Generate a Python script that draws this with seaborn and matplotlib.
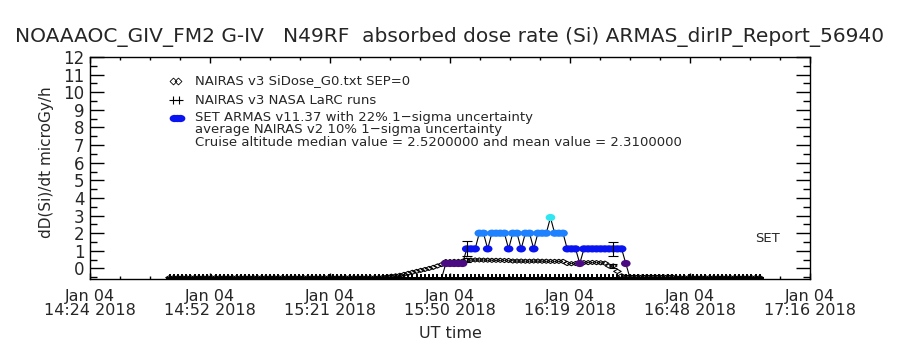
import matplotlib
matplotlib.use("Agg")
import matplotlib.pyplot as plt
from matplotlib.path import Path
from matplotlib.ticker import AutoMinorLocator, FixedLocator
import pandas as pd
import seaborn as sns

TITLE = "NOAAAOC_GIV_FM2 G-IV   N49RF  absorbed dose rate (Si) ARMAS_dirIP_Report_56940"

# x axis in UT minutes of day (14:24 -> 17:16)
X_MIN, X_MAX = 864, 1036
x_tick_labels = ["Jan 04\n14:24 2018", "Jan 04\n14:52 2018", "Jan 04\n15:21 2018",
                 "Jan 04\n15:50 2018", "Jan 04\n16:19 2018", "Jan 04\n16:48 2018",
                 "Jan 04\n17:16 2018"]
y_tick_values = [0, 1, 2, 3, 4, 5, 6, 7, 8, 9, 10, 11, 12]

# NAIRAS v3 SiDose_G0 (diamonds), one value per minute starting 14:43 UT
nairas_start = 883
nairas_vals = ([-0.52] * 51 +
               [-0.5, -0.47, -0.44, -0.42, -0.39, -0.34, -0.28, -0.22, -0.17, -0.11,
                -0.06, 0.0, 0.06, 0.14, 0.22] +
               [0.39, 0.39, 0.40, 0.40, 0.41, 0.47, 0.47, 0.48, 0.48, 0.47, 0.47, 0.46,
                0.46, 0.46, 0.45, 0.45, 0.42, 0.42, 0.42, 0.41, 0.41, 0.42, 0.42, 0.41,
                0.41, 0.40, 0.40, 0.40, 0.40] +
               [0.28, 0.27, 0.28, 0.30, 0.33, 0.33, 0.34, 0.33, 0.32, 0.30, 0.14, 0.14,
                -0.17, -0.42] +
               [-0.47, -0.47, -0.47, -0.47, -0.47, -0.47, -0.47, -0.47, -0.47, -0.47,
                -0.47, -0.47] +
               [-0.52] * 21)

# NAIRAS v3 NASA LaRC runs (+), same cadence
larc_start = 883
larc_vals = [-0.57] * 142

# SET ARMAS v11.37, one value per minute starting 15:48 UT
set_start = 948
set_vals = [-0.55,
            0.28, 0.28, 0.28, 0.28, 0.28,
            1.11, 1.11, 1.11, 2.0, 2.0, 1.11, 2.0, 2.0, 2.0, 2.0, 1.11,
            2.0, 2.0, 1.11, 2.0, 2.0, 1.11, 2.0, 2.0, 2.0, 2.89, 2.0, 2.0, 2.0,
            1.11, 1.11, 1.11, 0.28,
            1.11, 1.11, 1.11, 1.11, 1.11, 1.11, 1.11, 1.11, 1.11, 1.11,
            0.28,
            -0.55]
set_err_minutes = [954, 989]
set_err_vals = [0.42, 0.38]
nairas_err_minutes = [954, 989]
nairas_err_vals = [0.1, 0.1]

level_colors = {0.28: "#4b0a82", 1.11: "#0a14f0", 2.0: "#1e82ff", 2.89: "#30e6f0"}

# flat open diamond (IDL psym=4 look) and slightly flat dot
flat_diamond = Path([(-1, 0), (0, 0.55), (1, 0), (0, -0.55), (-1, 0)],
                    [Path.MOVETO, Path.LINETO, Path.LINETO, Path.LINETO, Path.CLOSEPOLY])
flat_dot = Path.unit_circle().transformed(
    matplotlib.transforms.Affine2D().scale(1.0, 0.75))

sns.set_style("ticks")
plt.rcParams["font.family"] = ["DejaVu Sans"]

fig = plt.figure(figsize=(9, 3.5), dpi=100)
ax = fig.add_axes([90 / 900, 71 / 350, 720 / 900, 222 / 350])

nairas = pd.DataFrame({"t": range(nairas_start, nairas_start + len(nairas_vals)),
                       "dose": nairas_vals})
larc = pd.DataFrame({"t": range(larc_start, larc_start + len(larc_vals)),
                     "dose": larc_vals})
setd = pd.DataFrame({"t": range(set_start, set_start + len(set_vals)),
                     "dose": set_vals})
set_pts = setd[setd["dose"] > 0].copy()
set_pts["level"] = set_pts["dose"]

# NAIRAS LaRC + markers along the bottom
sns.scatterplot(data=larc, x="t", y="dose", marker="+", s=36, color="black",
                linewidth=1.4, ax=ax, zorder=3, legend=False)
# NAIRAS diamonds
sns.scatterplot(data=nairas, x="t", y="dose", marker=flat_diamond, s=30,
                facecolor="none", edgecolor="black", linewidth=0.75, ax=ax,
                zorder=3, legend=False)
ax.errorbar(nairas_err_minutes,
            nairas.set_index("t").loc[nairas_err_minutes, "dose"],
            yerr=nairas_err_vals, fmt="none", ecolor="black", elinewidth=0.8,
            capsize=3, capthick=0.8, zorder=4)

# SET line and coloured points
sns.lineplot(data=setd, x="t", y="dose", color="black", linewidth=0.8, ax=ax,
             sort=False, estimator=None, zorder=4)
sns.scatterplot(data=set_pts, x="t", y="dose", hue="level", palette=level_colors,
                marker=flat_dot, s=48, edgecolor="none", ax=ax, zorder=5,
                legend=False)
ax.errorbar(set_err_minutes,
            setd.set_index("t").loc[set_err_minutes, "dose"],
            yerr=set_err_vals, fmt="none", ecolor="black", elinewidth=0.8,
            capsize=3.5, capthick=0.8, zorder=6)

# axes styling (IDL look)
ax.set_xlim(X_MIN, X_MAX)
ax.set_ylim(-0.6, 12)
ax.xaxis.set_major_locator(FixedLocator([X_MIN + k * (X_MAX - X_MIN) / 6 for k in range(7)]))
ax.set_xticklabels(x_tick_labels, linespacing=0.95)
ax.xaxis.set_minor_locator(AutoMinorLocator(4))
ax.set_yticks(y_tick_values)
ax.yaxis.set_minor_locator(AutoMinorLocator(2))
ax.tick_params(axis="both", which="both", direction="in", top=True, right=True,
               width=1, color="black")
ax.tick_params(axis="x", which="major", length=4, pad=7, labelsize=11.5)
ax.tick_params(axis="x", which="minor", length=2.5)
ax.tick_params(axis="y", which="major", length=10, pad=4, labelsize=12)
ax.tick_params(axis="y", which="minor", length=5)
for sp in ax.spines.values():
    sp.set_linewidth(1.0)
    sp.set_color("black")
ax.set_xlabel("")
ax.set_ylabel("")

fig.text(0.5, 1 - 37 / 350, TITLE, ha="center", va="center", fontsize=14.5)
fig.text(450 / 900, 1 - 334 / 350, "UT time", ha="center", va="center", fontsize=11.5)
fig.text(47 / 900, 1 - 162 / 350, "dD(Si)/dt microGy/h", rotation=90,
         ha="center", va="center", fontsize=11)

# in-plot legend text (IDL style)
tx = (195 - 90) / 720
def ay(py):
    return (279 - py) / 222

ax.text(tx, ay(81), "NAIRAS v3 SiDose_G0.txt SEP=0", transform=ax.transAxes,
        va="center", fontsize=9.5)
ax.text(tx, ay(100), "NAIRAS v3 NASA LaRC runs", transform=ax.transAxes,
        va="center", fontsize=9.5)
ax.text(tx, ay(118), "SET ARMAS v11.37 with 22% 1\u2212sigma uncertainty",
        transform=ax.transAxes, va="center", fontsize=9.5)
ax.text(tx, ay(130), "average NAIRAS v2 10% 1\u2212sigma uncertainty",
        transform=ax.transAxes, va="center", fontsize=9.5)
ax.text(tx, ay(143), "Cruise altitude median value = 2.5200000 and mean value = 2.3100000",
        transform=ax.transAxes, va="center", fontsize=9.5)
ax.text((755 - 90) / 720, ay(238), "SET", transform=ax.transAxes, va="center",
        fontsize=9.5)

# legend symbols
ax.plot([(173 - 90) / 720, (178 - 90) / 720], [ay(81), ay(81)], "D", ms=3.5,
        mfc="none", mec="black", mew=0.6, transform=ax.transAxes)
ax.plot([(173 - 90) / 720, (179 - 90) / 720], [ay(100), ay(100)], "+", ms=6,
        color="black", mew=0.8, transform=ax.transAxes)
ax.plot([(174 - 90) / 720, (177 - 90) / 720, (180 - 90) / 720], [ay(118)] * 3,
        marker=flat_dot, ls="none", ms=7, color="#0a14f0", mec="none",
        transform=ax.transAxes)

fig.savefig("out.png", dpi=100)
